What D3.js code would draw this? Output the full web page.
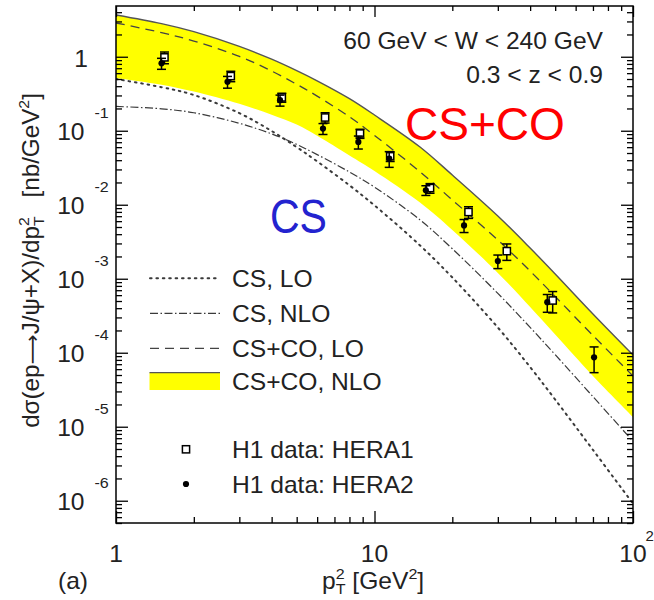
<!DOCTYPE html>
<html>
<head>
<meta charset="utf-8">
<script src="https://cdn.jsdelivr.net/npm/d3@7"></script>
<style>
  html, body { margin: 0; padding: 0; background: #fff; }
  svg { display: block; }
  text { font-family: "Liberation Sans", Arial, sans-serif; fill: #222; }
</style>
</head>
<body>
<svg id="chart" width="654" height="600"></svg>
<script>
// p_T^2 grid for the theory curves [GeV^2]
const pt2 = [1, 1.5, 2, 3, 4, 5, 6, 8, 10, 15, 20, 30, 40, 50, 70, 100];
// CS+CO NLO uncertainty band (upper / lower edge) [nb/GeV^2]
const coNloUpper = [3.67, 2.80, 2.18, 1.38, 0.926, 0.648, 0.472, 0.271, 0.163, 0.0603, 0.0252, 0.00704, 0.00260, 0.00116, 0.000334, 0.0000932];
const coNloLower = [0.516, 0.418, 0.338, 0.231, 0.165, 0.121, 0.0855, 0.0463, 0.0286, 0.0107, 0.00456, 0.00120, 0.000415, 0.000176, 0.0000485, 0.0000135];
// CS+CO LO
const coLo = [2.86, 2.12, 1.63, 1.01, 0.642, 0.424, 0.294, 0.154, 0.0865, 0.0279, 0.0116, 0.00334, 0.00127, 0.000575, 0.000171, 0.0000485];
// CS NLO
const csNlo = [0.213, 0.198, 0.175, 0.126, 0.0907, 0.0654, 0.0476, 0.0277, 0.0173, 0.00624, 0.00254, 0.000634, 0.000220, 0.0000941, 0.0000255, 0.00000636];
// CS LO
const csLo = [0.500, 0.388, 0.304, 0.173, 0.0992, 0.0601, 0.0385, 0.0183, 0.00980, 0.00282, 0.00104, 0.000219, 0.0000640, 0.0000233, 0.00000486, 0.000000915];

// H1 measurements
const hera1Pt2 = [1.54, 2.78, 4.38, 6.44, 8.79, 11.5, 16.4, 23.1, 32.5, 48.9];
const hera1Val = [0.981, 0.548, 0.282, 0.151, 0.0918, 0.0452, 0.0168, 0.00797, 0.00236, 0.000508];
const hera1Err = [0.177, 0.088, 0.039, 0.024, 0.0129, 0.0068, 0.0025, 0.00143, 0.00059, 0.000163];
const hera2Pt2 = [1.50, 2.70, 4.31, 6.32, 8.66, 11.4, 15.8, 22.2, 30.0, 46.6, 70.7];
const hera2Val = [0.814, 0.459, 0.259, 0.107, 0.0707, 0.0421, 0.0157, 0.00526, 0.00173, 0.000482, 0.0000868];
const hera2Err = [0.138, 0.083, 0.044, 0.018, 0.0141, 0.0101, 0.00235, 0.00105, 0.00036, 0.00013, 0.000033];

// axis labels
const yDecades = [0, -1, -2, -3, -4, -5, -6];
const xLabels = [{v: 1, t: "1"}, {v: 10, t: "10"}, {v: 100, t: "10", sup: "2"}];
const legendItems = [
  {kind: "dot", label: "CS, LO"},
  {kind: "dashdot", label: "CS, NLO"},
  {kind: "dash", label: "CS+CO, LO"},
  {kind: "band", label: "CS+CO, NLO"},
  {kind: "square", label: "H1 data: HERA1"},
  {kind: "circle", label: "H1 data: HERA2"}
];

const svg = d3.select("#chart");
const L = 116, R = 633, T = 6, B = 523;
const SX = 1.07;   // horizontal stretch of the lettering

const x = d3.scaleLog().domain([1, 100]).range([L, R]);
const y = d3.scaleLog().domain([5e-7, 4.85]).range([B, T]);

const styles = {
  dot:     {stroke: "#3a3a3a", width: 2.0, dash: "1.6,4.8", cap: "round"},
  dashdot: {stroke: "#3a3a3a", width: 1.2, dash: "8,2.5,1.5,2.5", cap: "butt"},
  dash:    {stroke: "#444", width: 1.3, dash: "9,6", cap: "butt"},
  edge:    {stroke: "#555", width: 1.4, dash: null, cap: "butt"}
};
const smooth = d3.curveCatmullRom.alpha(0.5);

svg.append("defs").append("clipPath").attr("id", "plotClip")
  .append("rect").attr("x", L).attr("y", T).attr("width", R - L).attr("height", B - T);

const plot = svg.append("g").attr("clip-path", "url(#plotClip)");

// yellow NLO band
const band = pt2.map((p, i) => ({p, hi: coNloUpper[i], lo: coNloLower[i]}));
plot.append("path").datum(band)
  .attr("d", d3.area().curve(smooth)
    .x(d => x(d.p)).y0(d => y(d.lo)).y1(d => y(d.hi)))
  .attr("fill", "#ffff00").attr("stroke", "none");

function curve(vals, st) {
  const pts = pt2.map((p, i) => ({p, v: vals[i]}));
  const path = plot.append("path").datum(pts)
    .attr("d", d3.line().curve(smooth).x(d => x(d.p)).y(d => y(d.v)))
    .attr("fill", "none").attr("stroke", st.stroke)
    .attr("stroke-width", st.width).attr("stroke-linecap", st.cap);
  if (st.dash) path.attr("stroke-dasharray", st.dash);
}
curve(coNloUpper, styles.edge);
curve(csLo, styles.dot);
curve(csNlo, styles.dashdot);
curve(coLo, styles.dash);

// data with error bars
function dataSeries(ps, vs, es, marker) {
  const g = plot.append("g");
  ps.forEach((p, i) => {
    const cx = x(p), v = vs[i], e = es[i];
    const yTop = y(v + e), yBot = y(Math.max(v - e, 1e-9));
    g.append("line").attr("x1", cx).attr("x2", cx).attr("y1", yTop).attr("y2", yBot)
      .attr("stroke", "#000").attr("stroke-width", 1.5);
    [yTop, yBot].forEach(yy => g.append("line")
      .attr("x1", cx - 4.5).attr("x2", cx + 4.5).attr("y1", yy).attr("y2", yy)
      .attr("stroke", "#000").attr("stroke-width", 1.5));
    drawMarker(g, marker, cx, y(v));
  });
}
function drawMarker(g, marker, cx, cy) {
  if (marker === "square") {
    g.append("rect").attr("x", cx - 3.6).attr("y", cy - 3.6).attr("width", 7.2).attr("height", 7.2)
      .attr("fill", "#fff").attr("stroke", "#000").attr("stroke-width", 1.5);
  } else {
    g.append("circle").attr("cx", cx).attr("cy", cy).attr("r", 3.1).attr("fill", "#000");
  }
}
dataSeries(hera1Pt2, hera1Val, hera1Err, "square");
dataSeries(hera2Pt2, hera2Val, hera2Err, "circle");

// axes: inward major and minor ticks on all four sides
const yMajor = yDecades.map(d => Math.pow(10, d));
const yMinor = [];
for (let d = -7; d <= 0; d++) for (let k = 2; k <= 9; k++) {
  const v = k * Math.pow(10, d);
  if (v >= 5e-7 && v <= 4.85) yMinor.push(v);
}
const xMajor = [1, 10, 100];
const xMinor = [];
for (let d = 0; d <= 1; d++) for (let k = 2; k <= 9; k++) xMinor.push(k * Math.pow(10, d));

function axisGroup(axisFn, scale, vals, size, tr) {
  const g = svg.append("g").attr("transform", tr)
    .call(axisFn(scale).tickValues(vals).tickSize(-size).tickFormat(""));
  g.select(".domain").remove();
  g.selectAll(".tick line").attr("stroke", "#000").attr("stroke-width", 1.3);
}
axisGroup(d3.axisLeft, y, yMajor, 12, `translate(${L},0)`);
axisGroup(d3.axisLeft, y, yMinor, 6, `translate(${L},0)`);
axisGroup(d3.axisRight, y, yMajor, 12, `translate(${R},0)`);
axisGroup(d3.axisRight, y, yMinor, 6, `translate(${R},0)`);
axisGroup(d3.axisBottom, x, xMajor, 12, `translate(0,${B})`);
axisGroup(d3.axisBottom, x, xMinor, 6, `translate(0,${B})`);
axisGroup(d3.axisTop, x, xMajor, 11, `translate(0,${T})`);
axisGroup(d3.axisTop, x, xMinor, 5, `translate(0,${T})`);

svg.append("rect").attr("x", L).attr("y", T).attr("width", R - L).attr("height", B - T)
  .attr("fill", "none").attr("stroke", "#000").attr("stroke-width", 1.5);

// text helper with horizontal stretch
function label(px, py, str, size, anchor, parent) {
  const g = (parent || svg).append("g")
    .attr("transform", `translate(${px},${py}) scale(${SX},1)`);
  return g.append("text").attr("text-anchor", anchor || "start")
    .attr("font-size", size).text(str);
}

// y tick labels
yDecades.forEach(d => {
  const ty = y(Math.pow(10, d));
  if (d === 0) {
    label(88, ty + 10, "1", 23, "end");
  } else {
    label(84.5, ty + 9.5, "10", 23, "end");
    label(94.5, ty - 12.5, String(d), 15, "start");
  }
});

// x tick labels
xLabels.forEach(o => {
  label(x(o.v), 562, o.t, 23, "middle");
  if (o.sup) label(x(o.v) + 12.5, 541, o.sup, 14, "start");
});

// x axis title
{
  const t = label(322, 589, "p", 23, "start");
  t.append("tspan").attr("font-size", 15).attr("dy", -10).text("2");
  t.append("tspan").attr("font-size", 15).attr("dx", -8.3).attr("dy", 15).text("T");
  t.append("tspan").attr("dy", -5).text(" [GeV");
  t.append("tspan").attr("font-size", 15).attr("dy", -10).text("2");
  t.append("tspan").attr("dy", 10).text("]");
}
label(58, 589, "(a)", 23, "start");

// y axis title
{
  const g = svg.append("g").attr("transform", "translate(38.5,260.5) rotate(-90)");
  const inner = g.append("g");
  const t = inner.append("text").attr("text-anchor", "middle").attr("font-size", 23);
  t.append("tspan").text("d\u03c3(ep");
  t.append("tspan").style("font-family", "'DejaVu Sans', sans-serif").attr("font-size", 20).text("\u27f6");
  t.append("tspan").text("J/\u03c8+X)/dp");
  t.append("tspan").attr("font-size", 15).attr("dy", -10).text("2");
  t.append("tspan").attr("font-size", 15).attr("dx", -8.3).attr("dy", 15).text("T");
  t.append("tspan").attr("dy", -5).text("\u2002 [nb/GeV");
  t.append("tspan").attr("font-size", 15).attr("dy", -10).text("2");
  t.append("tspan").attr("dy", 10).text("]");
  const w = t.node().getBBox().width;
  inner.attr("transform", `scale(${335 / w},1)`);
}

// kinematic range
label(603, 48.5, "60 GeV < W < 240 GeV", 23, "end");
label(603, 83, "0.3 < z < 0.9", 23, "end");

// model annotations, fitted to their lettering width
function annotation(px, py, str, size, color, width) {
  const g = svg.append("g").attr("transform", `translate(${px},${py})`);
  const t = g.append("text").attr("x", 0).attr("y", 0)
    .attr("font-family", "'Noto Sans', 'Open Sans', sans-serif").attr("font-size", size)
    .style("fill", color).text(str);
  const w = t.node().getBBox().width;
  t.attr("transform", `scale(${width / w},1)`);
}
annotation(405, 140, "CS+CO", 47, "#ff0000", 160);
annotation(270, 233, "CS", 49, "#2323cf", 57);

// legend
const legY = [278.3, 313.3, 348.3, 381.5, 449.3, 484];
const legBase = [286.5, 321.5, 356.5, 390, 458, 493];
legendItems.forEach((it, i) => {
  const cy = legY[i];
  if (it.kind === "dot" || it.kind === "dashdot" || it.kind === "dash") {
    const st = styles[it.kind];
    svg.append("line").attr("x1", 150).attr("x2", 220).attr("y1", cy).attr("y2", cy)
      .attr("stroke", st.stroke).attr("stroke-width", st.width)
      .attr("stroke-dasharray", st.dash).attr("stroke-linecap", st.cap);
  } else if (it.kind === "band") {
    svg.append("rect").attr("x", 149.5).attr("y", 372.7).attr("width", 70.5).attr("height", 17.3)
      .attr("fill", "#ffff00");
    svg.append("line").attr("x1", 149.5).attr("x2", 220).attr("y1", 372.7).attr("y2", 372.7)
      .attr("stroke", "#555").attr("stroke-width", 1.2);
  } else {
    drawMarker(svg, it.kind, 186, cy);
  }
  label(232, legBase[i], it.label, 23, "start");
});
</script>
</body>
</html>
